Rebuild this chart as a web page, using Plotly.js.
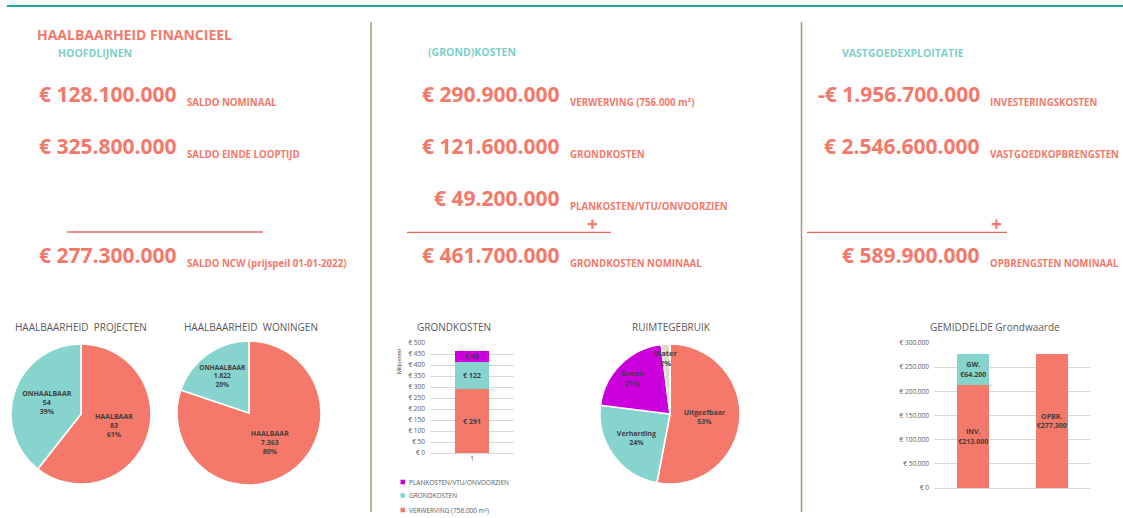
<!DOCTYPE html>
<html><head><meta charset="utf-8">
<script src="https://cdn.plot.ly/plotly-3.0.1.min.js"></script>
<style>html,body{margin:0;padding:0;background:#fff;overflow:hidden}#c{width:1123px;height:518px}</style>
</head><body><div id="c"></div>
<script>
// ---------- DATA ----------
const financieelLabels = ['SALDO NOMINAAL', 'SALDO EINDE LOOPTIJD', 'SALDO NCW (prijspeil 01-01-2022)'];
const financieelValues = [128100000, 325800000, 277300000];
const kostenLabels = ['VERWERVING (756.000 m²)', 'GRONDKOSTEN', 'PLANKOSTEN/VTU/ONVOORZIEN', 'GRONDKOSTEN NOMINAAL'];
const kostenValues = [290900000, 121600000, 49200000, 461700000];
const vastgoedLabels = ['INVESTERINGSKOSTEN', 'VASTGOEDKOPBRENGSTEN', 'OPBRENGSTEN NOMINAAL'];
const vastgoedValues = [-1956700000, 2546600000, 589900000];

const haalLabels = ['HAALBAAR', 'ONHAALBAAR'];
const projectenValues = [83, 54];
const woningenValues = [7363, 1822];

const grondCategories = ['1'];
const grondSeriesNames = ['VERWERVING (756.000 m²)', 'GRONDKOSTEN', 'PLANKOSTEN/VTU/ONVOORZIEN'];
const verwervingMln = [290.9];
const grondkostenMln = [121.6];
const plankostenMln = [49.2];

const ruimteLabels = ['Uitgeefbaar', 'Verharding', 'Groen', 'Water'];
const ruimteValues = [53, 24, 21, 2];

const gwCategories = ['1', '2'];
const gwBaseValues = [213000, 277300];
const gwBaseNames = ['INV.', 'OPBR.'];
const gwTopCategories = ['1'];
const gwTopValues = [64200];
const gwTopNames = ['GW.'];

// ---------- STYLE ----------
const W = 1123, H = 518;
const px = x => x / W, py = y => 1 - y / H;
const FONT = 'Open Sans';
const SALMON = '#F4796B', TEAL = '#86D4CD', TEAL_TXT = '#7DD0CA', MAGENTA = '#CC00DD', BEIGE = '#DDD9CC';
const GREY = '#595959', DARK = '#404040';

function eur(v) {
  const s = Math.abs(v).toString().replace(/\B(?=(\d{3})+(?!\d))/g, '.');
  return (v < 0 ? '-€ ' : '€ ') + s;
}
const ann = [];
function txt(x, y, text, size, color, xanchor, bold, extra) {
  ann.push(Object.assign({
    x: px(x), y: py(y), xref: 'paper', yref: 'paper', xanchor: xanchor || 'left', yanchor: 'middle',
    text: bold ? '<b>' + text + '</b>' : text, showarrow: false,
    font: { family: FONT, size: size, color: color }
  }, extra || {}));
}

// headings
txt(35, 34.5, 'HAALBAARHEID FINANCIEEL', 14, SALMON, 'left', true);
txt(56, 53, 'HOOFDLIJNEN', 10.5, TEAL_TXT, 'left', true);
txt(425.5, 52.5, '(GROND)KOSTEN', 10.5, TEAL_TXT, 'left', true);
txt(840, 53, 'VASTGOEDEXPLOITATIE', 10.5, TEAL_TXT, 'left', true);

// key figures
const leftY = [94, 146, 255], midY = [94, 146, 198, 255], rightY = [94, 146, 255];
financieelValues.forEach((v, i) => {
  txt(179, leftY[i], eur(v), 21, SALMON, 'right', true);
  txt(185, leftY[i] + 8, financieelLabels[i], 9.7, SALMON, 'left', true);
});
kostenValues.forEach((v, i) => {
  txt(562, midY[i], eur(v), 21, SALMON, 'right', true);
  txt(568, midY[i] + 8, kostenLabels[i], 9.7, SALMON, 'left', true);
});
vastgoedValues.forEach((v, i) => {
  txt(982, rightY[i], eur(v), 21, SALMON, 'right', true);
  txt(988, rightY[i] + 8, vastgoedLabels[i], 9.7, SALMON, 'left', true);
});
txt(592, 223.5, '+', 19, SALMON, 'center', true);
txt(996, 223.5, '+', 19, SALMON, 'center', true);

// chart titles
txt(81, 326.5, 'HAALBAARHEID  PROJECTEN', 10, GREY, 'center');
txt(251, 326.5, 'HAALBAARHEID  WONINGEN', 10, GREY, 'center');
txt(454, 326.5, 'GRONDKOSTEN', 10, GREY, 'center');
txt(671, 326.5, 'RUIMTEGEBRUIK', 10, GREY, 'center');
txt(995, 326.5, 'GEMIDDELDE Grondwaarde', 10, GREY, 'center');
txt(399, 362, 'Miljoenen', 5.5, DARK, 'center', false, { textangle: -90 });
// labels of the small pie slices
txt(632, 378, ruimteLabels[2] + '<br>' + ruimteValues[2] + '%', 7.5, DARK, 'center', true);
txt(665, 358, ruimteLabels[3] + '<br>' + ruimteValues[3] + '%', 7.5, DARK, 'center', true);
// label of the thin top segment in the grondkosten bar, placed in data coordinates (category index 0)
ann.push({ x: 0, y: verwervingMln[0] + grondkostenMln[0] + plankostenMln[0] / 2, xref: 'x', yref: 'y',
  text: '<b>€ ' + Math.round(plankostenMln[0]) + '</b>', showarrow: false, font: { family: FONT, size: 7, color: DARK } });

// manual legend for grondkosten chart
const legendColors = [MAGENTA, TEAL, SALMON];
const legendNames = grondSeriesNames.slice().reverse();
const legendY = [482, 495.5, 510];
const shapes = [];
legendNames.forEach((n, i) => {
  shapes.push({ type: 'rect', xref: 'paper', yref: 'paper', x0: px(400.5), x1: px(405), y0: py(legendY[i] - 2.3), y1: py(legendY[i] + 2.3), fillcolor: legendColors[i], line: { width: 0 } });
  txt(406.5, legendY[i], n, 6.5, GREY, 'left');
});

// lines
const L = (x0, y0, x1, y1, color, w) => shapes.push({ type: 'line', xref: 'paper', yref: 'paper', x0: px(x0), y0: py(y0), x1: px(x1), y1: py(y1), line: { color: color, width: w } });
L(7, 6, 1123, 6, '#16A89C', 2);
L(371, 22, 371, 512, '#A39778', 1.5);
L(801.5, 22, 801.5, 512, '#A39778', 1.5);
L(67, 232, 263, 232, '#E8645F', 1.3);
L(407, 232.3, 611, 232.3, '#E8645F', 1.3);
L(807, 232.3, 1007, 232.3, '#E8645F', 1.3);

// ---------- TRACES ----------
const pieText = { family: FONT, size: 7, color: DARK, weight: 'bold' };
const pieDom = (cx, cy, r) => ({ x: [px(cx - r), px(cx + r)], y: [py(cy + r), py(cy - r)] });
const barCommon = { textposition: 'inside', insidetextanchor: 'middle', constraintext: 'none', textangle: 0, textfont: pieText, showlegend: false };
const traces = [
  { type: 'pie', labels: haalLabels, values: projectenValues, sort: false, direction: 'clockwise', rotation: 0,
    marker: { colors: [SALMON, TEAL], line: { color: '#fff', width: 1.5 } },
    texttemplate: '%{label}<br>%{value:,}<br>%{percent:.0%}', textposition: 'inside', insidetextorientation: 'horizontal',
    textfont: pieText, domain: pieDom(81, 414, 70), showlegend: false, hoverinfo: 'skip' },
  { type: 'pie', labels: haalLabels, values: woningenValues, sort: false, direction: 'clockwise', rotation: 0,
    marker: { colors: [SALMON, TEAL], line: { color: '#fff', width: 1.5 } },
    texttemplate: '%{label}<br>%{value:,}<br>%{percent:.0%}', textposition: 'inside', insidetextorientation: 'horizontal',
    textfont: pieText, domain: pieDom(249, 413, 72), showlegend: false, hoverinfo: 'skip' },
  { type: 'pie', labels: ruimteLabels, values: ruimteValues, sort: false, direction: 'clockwise', rotation: 0,
    marker: { colors: [SALMON, TEAL, MAGENTA, BEIGE], line: { color: '#fff', width: 1.5 } },
    texttemplate: '%{label}<br>%{percent:.0%}', textposition: ['inside', 'inside', 'none', 'none'], insidetextorientation: 'horizontal',
    textfont: pieText, domain: pieDom(670, 414, 70), showlegend: false, hoverinfo: 'skip' },
  Object.assign({ type: 'bar', name: grondSeriesNames[0], x: grondCategories, y: verwervingMln, marker: { color: SALMON },
    texttemplate: '€ %{y:.0f}', xaxis: 'x', yaxis: 'y' }, barCommon),
  Object.assign({ type: 'bar', name: grondSeriesNames[1], x: grondCategories, y: grondkostenMln, marker: { color: TEAL },
    texttemplate: '€ %{y:.0f}', xaxis: 'x', yaxis: 'y' }, barCommon),
  Object.assign({ type: 'bar', name: grondSeriesNames[2], x: grondCategories, y: plankostenMln, marker: { color: MAGENTA },
    xaxis: 'x', yaxis: 'y' }, barCommon, { textposition: 'none' }),
  Object.assign({ type: 'bar', x: gwCategories, y: gwBaseValues, customdata: gwBaseNames, marker: { color: SALMON },
    texttemplate: '%{customdata}<br>€%{y:,.0f}', xaxis: 'x2', yaxis: 'y2' }, barCommon),
  Object.assign({ type: 'bar', x: gwTopCategories, y: gwTopValues, customdata: gwTopNames, marker: { color: TEAL },
    texttemplate: '%{customdata}<br>€%{y:,.0f}', xaxis: 'x2', yaxis: 'y2' }, barCommon)
];

const tickF = { family: FONT, size: 6.5, color: GREY };
const layout = {
  width: W, height: H, margin: { l: 0, r: 0, t: 0, b: 0 }, paper_bgcolor: '#fff', plot_bgcolor: 'rgba(0,0,0,0)',
  separators: ',.', font: { family: FONT }, showlegend: false, barmode: 'stack', bargap: 0.595,
  xaxis: { domain: [px(430), px(514)], anchor: 'y', type: 'category', range: [-0.5, 0.5], tickfont: tickF, showgrid: false, zeroline: false, showline: false, ticks: '', fixedrange: true },
  yaxis: { domain: [py(453), py(343)], anchor: 'x', range: [0, 500], dtick: 50, tickprefix: '€ ', tickfont: tickF,
    gridcolor: '#D9D9D9', zeroline: true, zerolinecolor: '#D9D9D9', showline: false, ticklabelstandoff: 4, fixedrange: true },
  xaxis2: { domain: [px(934), px(1091)], anchor: 'y2', type: 'category', showticklabels: false, showgrid: false, zeroline: false, showline: false, ticks: '', fixedrange: true },
  yaxis2: { domain: [py(488), py(343)], anchor: 'x2', range: [0, 300000], dtick: 50000, tickprefix: '€ ', tickformat: ',d', tickfont: tickF,
    gridcolor: '#D9D9D9', zeroline: true, zerolinecolor: '#D9D9D9', showline: false, ticklabelstandoff: 4, fixedrange: true },
  annotations: ann, shapes: shapes
};
Plotly.newPlot('c', traces, layout, { staticPlot: true, displayModeBar: false });
</script></body></html>
